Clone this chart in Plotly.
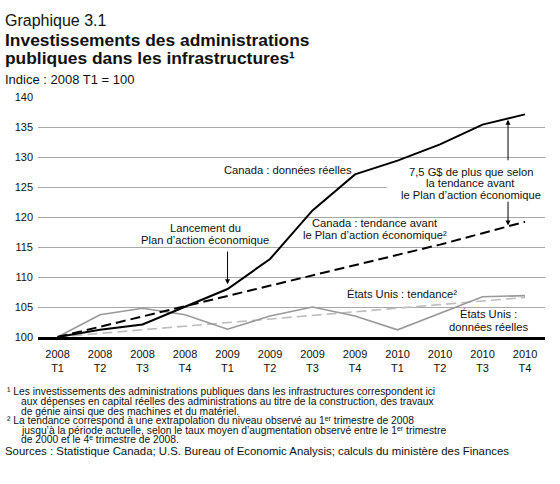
import plotly.graph_objects as go

# --- data -----------------------------------------------------------------
quarters = ["2008<br>T1", "2008<br>T2", "2008<br>T3", "2008<br>T4",
            "2009<br>T1", "2009<br>T2", "2009<br>T3", "2009<br>T4",
            "2010<br>T1", "2010<br>T2", "2010<br>T3", "2010<br>T4"]
canada_reel = [100, 101.2, 102.1, 105.0, 108.0, 113.0, 121.1, 127.1, 129.4, 132.1, 135.4, 137.1]
canada_tendance = [100, 101.7, 103.4, 105.1, 106.8, 108.5, 110.2, 111.9, 113.6, 115.4, 117.3, 119.2]
usa_reel = [100, 103.7, 104.8, 103.7, 101.3, 103.5, 105.0, 103.5, 101.2, 104.0, 106.7, 106.9]
usa_tendance = [100, 100.6, 101.2, 101.8, 102.4, 103.0, 103.6, 104.2, 104.8, 105.4, 106.0, 106.6]
y_ticks = [100, 105, 110, 115, 120, 125, 130, 135, 140]

FONT = "Liberation Sans, Arial, Helvetica, sans-serif"
W, H = 560, 484
L, R, T, B = 38, 15, 97, 147

x = list(range(len(quarters)))

fig = go.Figure()
fig.add_trace(go.Scatter(x=x, y=usa_tendance, mode="lines",
                         line=dict(color="#bdbdbd", width=1.6, dash="10px,5px")))
fig.add_trace(go.Scatter(x=x, y=usa_reel, mode="lines",
                         line=dict(color="#999999", width=1.6)))
fig.add_trace(go.Scatter(x=x, y=canada_tendance, mode="lines",
                         line=dict(color="black", width=2, dash="10px,5px")))
fig.add_trace(go.Scatter(x=x, y=canada_reel, mode="lines",
                         line=dict(color="black", width=2)))


def px_x(p):
    return (p - L) / (W - L - R)


def px_y(p):
    return (H - B - p) / (H - T - B)


def label(xc, ys, lines, size=11.2):
    # one annotation per line, to get the tight leading of the original
    for yy, txt in zip(ys, lines):
        fig.add_annotation(x=xc, y=yy, text=txt, showarrow=False,
                           xanchor="center", yanchor="middle",
                           font=dict(size=size, color="#111", family=FONT))


def arrow(xc, y_tail, y_head):
    fig.add_annotation(x=xc, y=y_head, ax=xc, ay=y_tail, axref="x", ayref="y",
                       text="", showarrow=True, arrowhead=2, arrowsize=1,
                       arrowwidth=1, arrowcolor="black")


label(3.47, [118.2, 116.2], ["Lancement du", "Plan d\u2019action économique"])
arrow(4.0, 114.5, 108.8)

label(5.42, [127.8], ["Canada : données réelles"])

label(9.72, [127.5, 125.6, 123.6],
      ["7,5 G$ de plus que selon", "la tendance avant", "le Plan d\u2019action économique"])
arrow(10.6, 129.2, 136.2)
arrow(10.6, 122.8, 118.6)

label(7.47, [119.0, 117.0],
      ["Canada : tendance avant", "le Plan d\u2019action économique\u00b2"])

label(8.10, [107.2], ["États Unis : tendance\u00b2"])
label(10.13, [103.9, 101.7], ["États Unis :", "données réelles"])

# white box behind the 7,5 G$ text (hides the 125 gridline there)
fig.add_shape(type="rect", xref="x", yref="y", x0=7.75, x1=11.47, y0=123.0, y1=128.3,
              fillcolor="white", line_width=0, layer="between")


# titles and notes, placed in pixels
def text_px(xp, yp, txt, size, bold=False, color="#111"):
    fig.add_annotation(xref="paper", yref="paper", x=px_x(xp), y=px_y(yp),
                       text=f"<b>{txt}</b>" if bold else txt, showarrow=False,
                       xanchor="left", yanchor="middle",
                       font=dict(size=size, color=color, family=FONT))


text_px(3, 20, "Graphique 3.1", 16)
text_px(3, 40, "Investissements des administrations", 17.4, bold=True)
text_px(3, 58, "publiques dans les infrastructures\u00b9", 17.4, bold=True)
text_px(3, 79.5, "Indice : 2008 T1 = 100", 13)

notes = [
    (5, 391.7, "\u00b9 Les investissements des administrations publiques dans les infrastructures correspondent ici", 10.3),
    (19, 401.5, "aux dépenses en capital réelles des administrations au titre de la construction, des travaux", 10.3),
    (19, 411, "de génie ainsi que des machines et du matériel.", 10.3),
    (5, 420.5, "\u00b2 La tendance correspond à une extrapolation du niveau observé au 1\u1d49\u02b3 trimestre de 2008", 10.3),
    (19, 430, "jusqu\u2019à la période actuelle, selon le taux moyen d\u2019augmentation observé entre le 1\u1d49\u02b3 trimestre", 10.3),
    (19, 439.5, "de 2000 et le 4\u1d49 trimestre de 2008.", 10.3),
    (3, 450.5, "Sources : Statistique Canada; U.S. Bureau of Economic Analysis; calculs du ministère des Finances", 11.4),
]
for xp, yp, txt, sz in notes:
    text_px(xp, yp, txt, sz)

fig.update_layout(
    width=W, height=H,
    margin=dict(l=L, r=R, t=T, b=B),
    paper_bgcolor="white", plot_bgcolor="white",
    showlegend=False,
    font=dict(family=FONT, size=11, color="#111"),
    xaxis=dict(range=[-0.46, 11.47], tickmode="array", tickvals=x, ticktext=quarters,
               showgrid=False, zeroline=False, showline=True, linecolor="black",
               linewidth=2.5, ticks="", ticklabelstandoff=5,
               tickfont=dict(size=11, family=FONT, color="#111")),
    yaxis=dict(range=[100, 140], tickmode="array", tickvals=y_ticks,
               showgrid=True, gridcolor="#a8a8a8", gridwidth=1, zeroline=False,
               showline=False, ticks="", ticklabelstandoff=4,
               tickfont=dict(size=11, family=FONT, color="#111")),
)

fig.write_html("out.html", config={"displayModeBar": False},
               post_script="document.body.style.margin='0';")
